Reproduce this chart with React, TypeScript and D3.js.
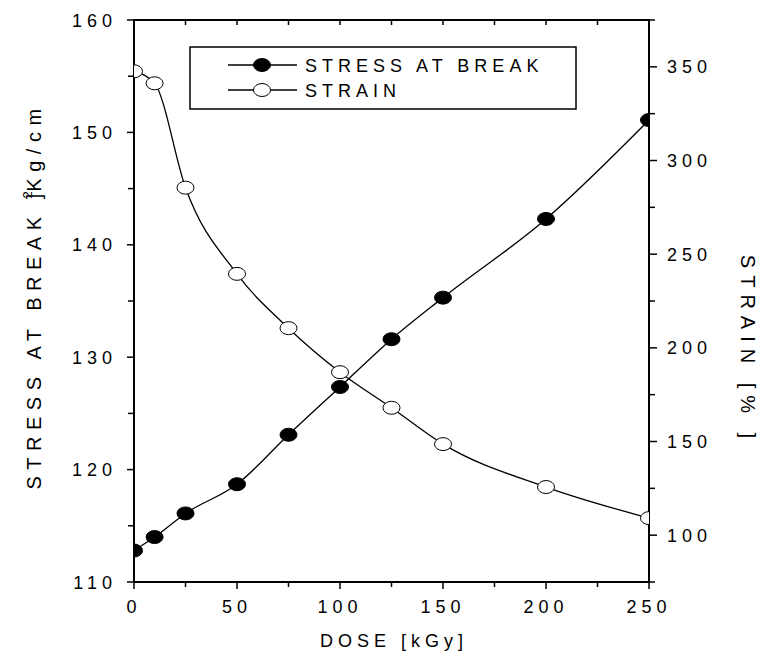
import React, { useRef, useEffect } from 'react';
import * as d3 from 'd3';

// ==================== DATA ====================
const DOSE = [0, 10, 25, 50, 75, 100, 125, 150, 200, 250];
const STRESS = [112.8, 114.0, 116.1, 118.7, 123.1, 127.35, 131.6, 135.3, 142.3, 151.1];
const STRAIN = [347.6, 341.2, 285.5, 239.5, 210.5, 187.0, 168.0, 148.6, 125.7, 109.1];

const X_TICKS = [0, 50, 100, 150, 200, 250];
const LEFT_TICKS = [110, 120, 130, 140, 150, 160];
const RIGHT_TICKS = [100, 150, 200, 250, 300, 350];

const SERIES = ['STRESS AT BREAK', 'STRAIN'];

const FONT = "'Liberation Sans', Arial, sans-serif";

const App = () => {
    const svgRef = useRef<SVGSVGElement | null>(null);

    useEffect(() => {
        const svg = d3.select(svgRef.current);
        svg.selectAll('*').remove();

        const left = 134, right = 649, top = 20, bottom = 582;

        const x = d3.scaleLinear().domain([0, 250]).range([left, right]);
        const yL = d3.scaleLinear().domain([110, 160]).range([bottom, top]);
        const yR = d3.scaleLinear().domain([75, 375]).range([bottom, top]);

        const txt = (sel: any, size = 18, ls = 5) => sel
            .attr('font-family', FONT)
            .attr('font-size', size)
            .attr('letter-spacing', ls)
            .attr('fill', '#000');

        // clip for marks
        svg.append('defs').append('clipPath').attr('id', 'plotclip')
            .append('rect').attr('x', left).attr('y', top)
            .attr('width', right - left).attr('height', bottom - top);

        // ---------- ticks ----------
        const ax = svg.append('g').attr('stroke', '#000').attr('stroke-width', 1.5);

        // bottom (outward) & top (inward)
        d3.range(0, 251, 25).forEach(v => {
            const major = v % 50 === 0;
            ax.append('line').attr('x1', x(v)).attr('x2', x(v))
                .attr('y1', bottom).attr('y2', bottom + (major ? 7 : 5));
            ax.append('line').attr('x1', x(v)).attr('x2', x(v))
                .attr('y1', top).attr('y2', top + 5);
        });
        // left (outward)
        d3.range(110, 160.1, 5).forEach(v => {
            ax.append('line').attr('x1', left - (v % 10 === 0 ? 7 : 6)).attr('x2', left)
                .attr('y1', yL(v)).attr('y2', yL(v));
        });
        // right (outward)
        d3.range(75, 375.1, 25).forEach(v => {
            ax.append('line').attr('x1', right).attr('x2', right + (v % 50 === 0 ? 8 : 6))
                .attr('y1', yR(v)).attr('y2', yR(v));
        });

        // frame
        svg.append('rect')
            .attr('x', left).attr('y', top)
            .attr('width', right - left).attr('height', bottom - top)
            .attr('fill', 'none').attr('stroke', '#000').attr('stroke-width', 2);

        // ---------- tick labels ----------
        X_TICKS.forEach(v => {
            svg.append('text').call(txt)
                .attr('x', x(v)).attr('y', 613)
                .attr('text-anchor', 'middle').text(v);
        });
        LEFT_TICKS.forEach(v => {
            svg.append('text').call(txt)
                .attr('x', 117).attr('y', yL(v) + 6.5)
                .attr('text-anchor', 'end').text(v);
        });
        RIGHT_TICKS.forEach(v => {
            svg.append('text').call(txt)
                .attr('x', 667).attr('y', yR(v) + 6.5)
                .attr('text-anchor', 'start').text(v);
        });

        // ---------- axis titles ----------
        svg.append('text').call(txt)
            .attr('x', 394).attr('y', 647)
            .attr('text-anchor', 'middle').text('DOSE [kGy]');

        const lt = svg.append('text').call(txt, 20, 6.5)
            .attr('transform', 'translate(41,296) rotate(-90)')
            .attr('text-anchor', 'middle');
        lt.append('tspan').text('STRESS AT BREAK ');
        lt.append('tspan').attr('font-size', 13).attr('dy', -9).attr('letter-spacing', 0).text('2');
        lt.append('tspan').attr('dy', 9).attr('letter-spacing', 2).attr('dx', -8).text(']');
        lt.append('tspan').text('Kg/cm');

        svg.append('text').call(txt, 20, 7)
            .attr('transform', 'translate(741,350) rotate(90)')
            .attr('text-anchor', 'middle').text('STRAIN [% ]');

        // ---------- series ----------
        const plot = svg.append('g').attr('clip-path', 'url(#plotclip)');

        const lineL = d3.line<number>()
            .x((_, i) => x(DOSE[i])).y(d => yL(d))
            .curve(d3.curveMonotoneX);
        const lineR = d3.line<number>()
            .x((_, i) => x(DOSE[i])).y(d => yR(d))
            .curve(d3.curveMonotoneX);

        plot.append('path').attr('d', lineL(STRESS))
            .attr('fill', 'none').attr('stroke', '#000').attr('stroke-width', 1.3);
        plot.append('path').attr('d', lineR(STRAIN))
            .attr('fill', 'none').attr('stroke', '#000').attr('stroke-width', 1.3);

        plot.selectAll('.m-stress').data(STRESS).enter().append('ellipse')
            .attr('cx', (_, i) => x(DOSE[i])).attr('cy', d => yL(d))
            .attr('rx', 8.5).attr('ry', 6.5)
            .attr('fill', '#000').attr('stroke', '#000').attr('stroke-width', 1);

        plot.selectAll('.m-strain').data(STRAIN).enter().append('ellipse')
            .attr('cx', (_, i) => x(DOSE[i])).attr('cy', d => yR(d))
            .attr('rx', 8.5).attr('ry', 6.5)
            .attr('fill', '#fff').attr('stroke', '#000').attr('stroke-width', 1);

        // ---------- legend ----------
        const lg = svg.append('g');
        lg.append('rect').attr('x', 190).attr('y', 47).attr('width', 386).attr('height', 62)
            .attr('fill', '#fff').attr('stroke', '#000').attr('stroke-width', 1.5);
        SERIES.forEach((name, i) => {
            const ly = 65 + i * 25;
            lg.append('line').attr('x1', 228).attr('x2', 297).attr('y1', ly).attr('y2', ly)
                .attr('stroke', '#000').attr('stroke-width', 1.3);
            lg.append('ellipse').attr('cx', 262).attr('cy', ly).attr('rx', 8.5).attr('ry', 6.5)
                .attr('fill', i === 0 ? '#000' : '#fff').attr('stroke', '#000');
            lg.append('text').call(txt).attr('x', 305).attr('y', ly + 6.5).text(name);
        });
    }, []);

    return (
        <svg ref={svgRef} width={760} height={655}
            style={{ position: 'absolute', left: 0, top: 0, background: '#fff' }} />
    );
};

export default App;
